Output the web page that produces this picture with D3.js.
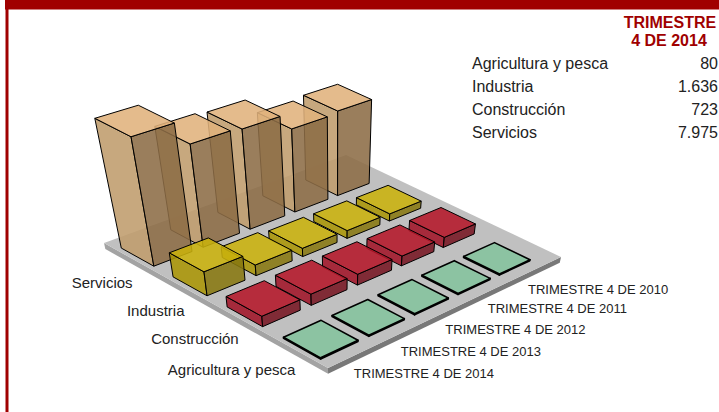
<!DOCTYPE html>
<html>
<head>
<meta charset="utf-8">
<script src="https://cdn.jsdelivr.net/npm/d3@7"></script>
<style>
html, body { margin: 0; padding: 0; background: #fff; overflow: hidden; }
text { font-family: "Liberation Sans", Arial, sans-serif; fill: #222; }
</style>
</head>
<body>
<div id="canvas"></div>
<script>
var w = 719;
var h = 412;

var years = ["TRIMESTRE 4 DE 2014", "TRIMESTRE 4 DE 2013", "TRIMESTRE 4 DE 2012", "TRIMESTRE 4 DE 2011", "TRIMESTRE 4 DE 2010"];
var categories = ["Agricultura y pesca", "Construcción", "Industria", "Servicios"];

// same order as years
var agricultura = [80, 75, 75, 75, 75];
var construccion = [723, 780, 760, 690, 720];
var industria = [1636, 740, 577, 548, 509];
var servicios = [7975, 6560, 6440, 5467, 5613];

var tableNames = ["Agricultura y pesca", "Industria", "Construcción", "Servicios"];
var tableValues = ["80", "1.636", "723", "7.975"];

var seriesValues = [agricultura, construccion, industria, servicios];
var topColors = ["#8cc3a2", "#b41729", "#cab20c", "#e0b27c"];
var leftColors = ["#8cc3a2", "#a01528", "#aa9506", "#bf9c6c"];
var rightColors = ["#5d8a70", "#761622", "#887710", "#8c6c46"];

var svg = d3.select("#canvas").append("svg")
	.attr("width", w)
	.attr("height", h)
	.style("display", "block");

// floor corners on screen, front / right / back / left
var quad = [[328, 368], [561, 257], [346, 155], [104, 243]];
var nadir = [336, 1300];

var dx1 = quad[1][0] - quad[2][0], dx2 = quad[3][0] - quad[2][0], sx = quad[0][0] - quad[1][0] + quad[2][0] - quad[3][0];
var dy1 = quad[1][1] - quad[2][1], dy2 = quad[3][1] - quad[2][1], sy = quad[0][1] - quad[1][1] + quad[2][1] - quad[3][1];
var den = dx1 * dy2 - dx2 * dy1;
var g0 = (sx * dy2 - dx2 * sy) / den;
var h0 = (dx1 * sy - sx * dy1) / den;
var a0 = quad[1][0] - quad[0][0] + g0 * quad[1][0];
var b0 = quad[3][0] - quad[0][0] + h0 * quad[3][0];
var d0 = quad[1][1] - quad[0][1] + g0 * quad[1][1];
var e0 = quad[3][1] - quad[0][1] + h0 * quad[3][1];

var xScale = d3.scaleBand().domain(years).range([0, 0.923]).paddingInner(0.23).paddingOuter(0.097);
var yScale = d3.scaleBand().domain(categories).range([0, 0.99]).paddingInner(0.367).paddingOuter(0.204);
var zScale = d3.scaleLinear().domain([0, 8000]).range([0, -0.12]);

function project(u, v, z) {
	var t = zScale(z);
	var W = g0 * u + h0 * v + 1 + t;
	return [
		(a0 * u + b0 * v + quad[0][0] + t * nadir[0]) / W,
		(d0 * u + e0 * v + quad[0][1] + t * nadir[1]) / W
	];
}

var line = d3.line();

function face(g, pts, fill, opacity, stroke, strokeWidth) {
	g.append("path")
		.attr("d", line(pts) + "Z")
		.attr("fill", fill)
		.attr("fill-opacity", opacity)
		.attr("stroke", stroke)
		.attr("stroke-width", strokeWidth)
		.attr("stroke-linejoin", "round");
}

// frame
svg.append("rect").attr("x", 5).attr("y", 0).attr("width", w - 5).attr("height", 9.5).attr("fill", "#a00000");
svg.append("rect").attr("x", 5.5).attr("y", 0).attr("width", 3).attr("height", h).attr("fill", "#a00000");

// floor
var slab = -420;
var floorG = svg.append("g");
face(floorG, [project(0, 1, 0), project(0, 0, 0), project(0, 0, slab), project(0, 1, slab)], "#a3a3a3", 1, "none", 0);
face(floorG, [project(0, 0, 0), project(1, 0, 0), project(1, 0, slab), project(0, 0, slab)], "#787878", 1, "none", 0);
face(floorG, [project(0, 0, 0), project(1, 0, 0), project(1, 1, 0), project(0, 1, 0)], "#c0c0c0", 1, "none", 0);

// back row first, far years first, so nearer bars sit over farther ones
d3.range(categories.length - 1, -1, -1).forEach(function(c) {
	d3.range(years.length - 1, -1, -1).forEach(function(y) {
		var g = svg.append("g");
		var value = seriesValues[c][y];
		var u0 = xScale(years[y]), u1 = u0 + xScale.bandwidth();
		var v0 = yScale(categories[c]), v1 = v0 + yScale.bandwidth();
		var sw = c === 0 ? 1.6 : 1;
		var op = c === 0 ? 1 : 0.88;
		face(g, [project(u0, v1, 0), project(u0, v0, 0), project(u0, v0, value), project(u0, v1, value)], leftColors[c], op, "#000", sw);
		face(g, [project(u0, v0, 0), project(u1, v0, 0), project(u1, v0, value), project(u0, v0, value)], rightColors[c], op, "#000", sw);
		face(g, [project(u0, v0, value), project(u1, v0, value), project(u1, v1, value), project(u0, v1, value)], topColors[c], op, "#000", sw);
	});
});

// row and column labels hang off the floor edges
years.forEach(function(d) {
	var p = project(xScale(d) + xScale.bandwidth() / 2, -0.06, 0);
	svg.append("text")
		.attr("x", p[0] - 12.5)
		.attr("y", p[1] + 13.5)
		.attr("font-size", 13)
		.text(d);
});
categories.forEach(function(d, i) {
	var p = project(-0.04, yScale(d) + yScale.bandwidth() / 2, 0);
	svg.append("text")
		.attr("x", p[0] + 9 + i * 0.7)
		.attr("y", p[1] + 19 + 2 * i)
		.attr("text-anchor", "end")
		.attr("font-size", 15)
		.text(d);
});

// table, top right
svg.append("text").attr("x", 670).attr("y", 27.5).attr("text-anchor", "middle")
	.attr("font-size", 16).attr("font-weight", "bold").style("fill", "#a00000").text("TRIMESTRE");
svg.append("text").attr("x", 669).attr("y", 46).attr("text-anchor", "middle")
	.attr("font-size", 16).attr("font-weight", "bold").style("fill", "#a00000").text("4 DE 2014");

var rowScale = d3.scalePoint().domain(tableNames).range([69, 138]);
tableNames.forEach(function(d, i) {
	svg.append("text").attr("x", 472).attr("y", rowScale(d)).attr("font-size", 16).text(d);
	svg.append("text").attr("x", 718).attr("y", rowScale(d)).attr("text-anchor", "end").attr("font-size", 16).text(tableValues[i]);
});
</script>
</body>
</html>
